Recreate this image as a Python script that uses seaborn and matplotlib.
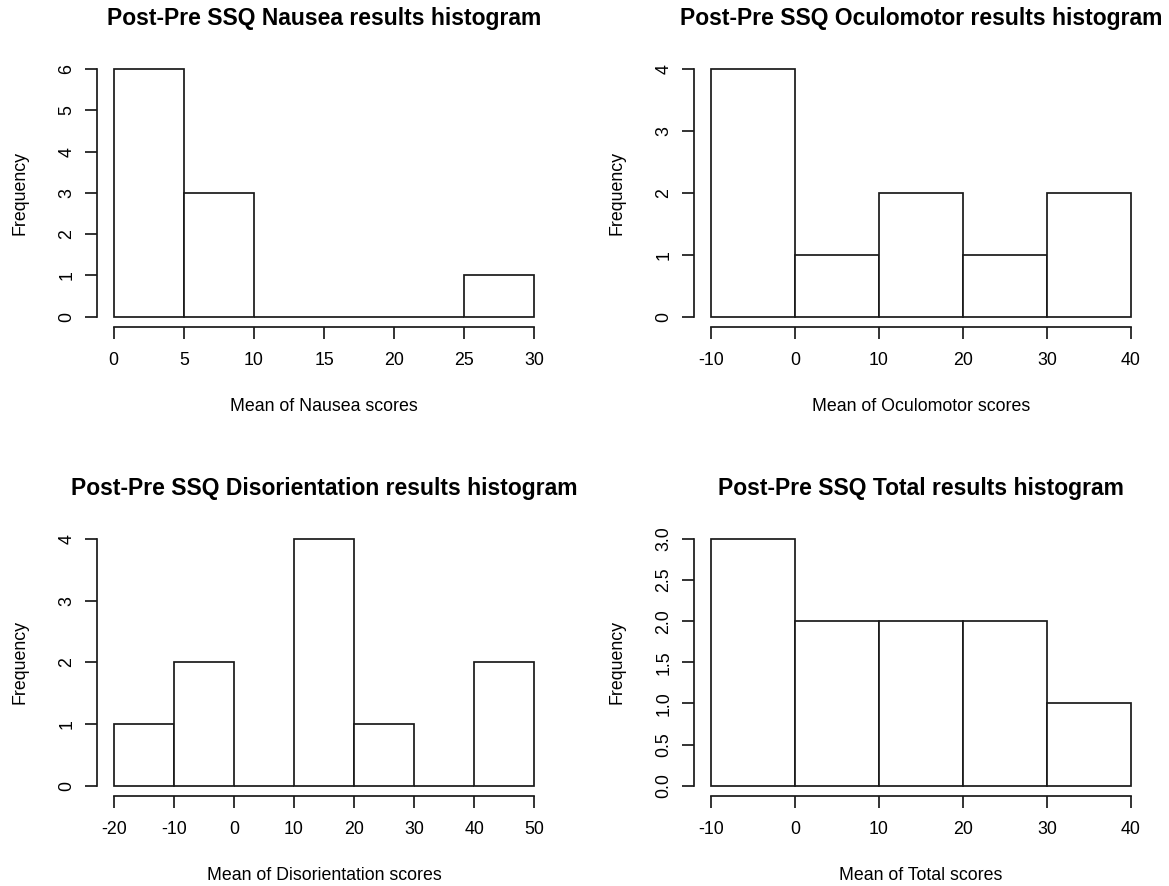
import matplotlib
matplotlib.use("Agg")
import matplotlib.pyplot as plt
import seaborn as sns
import numpy as np

sns.set_style("white")
plt.rcParams['font.family'] = ['Liberation Sans', 'DejaVu Sans']
plt.rcParams['text.color'] = 'black'
plt.rcParams['axes.labelcolor'] = 'black'
plt.rcParams['xtick.color'] = 'black'
plt.rcParams['ytick.color'] = 'black'

# ---- data (bin edges and counts) ----
nausea_edges = [0, 5, 10, 15, 20, 25, 30]
nausea_counts = [6, 3, 0, 0, 0, 1]
nausea_yticks = [0, 1, 2, 3, 4, 5, 6]

oculo_edges = [-10, 0, 10, 20, 30, 40]
oculo_counts = [4, 1, 2, 1, 2]
oculo_yticks = [0, 1, 2, 3, 4]

disor_edges = [-20, -10, 0, 10, 20, 30, 40, 50]
disor_counts = [1, 2, 0, 4, 1, 0, 2]
disor_yticks = [0, 1, 2, 3, 4]

total_edges = [-10, 0, 10, 20, 30, 40]
total_counts = [3, 2, 2, 2, 1]
total_yticks = [0.0, 0.5, 1.0, 1.5, 2.0, 2.5, 3.0]

titles = ["Post-Pre SSQ Nausea results histogram",
          "Post-Pre SSQ Oculomotor results histogram",
          "Post-Pre SSQ Disorientation results histogram",
          "Post-Pre SSQ Total results histogram"]
xlabels = ["Mean of Nausea scores", "Mean of Oculomotor scores",
           "Mean of Disorientation scores", "Mean of Total scores"]
ylabel = "Frequency"

W, H = 1169, 886
fig = plt.figure(figsize=(W / 100, H / 100), dpi=100)

# axes rectangles in pixels: left, top, right, bottom
rects = [(96.9, 59.1, 551.1, 326.6),
         (694.2, 59.1, 1147.8, 326.6),
         (96.9, 529.1, 551.1, 795.6),
         (694.2, 529.1, 1147.8, 795.6)]

panels = [(nausea_edges, nausea_counts, nausea_yticks, False),
          (oculo_edges, oculo_counts, oculo_yticks, False),
          (disor_edges, disor_counts, disor_yticks, False),
          (total_edges, total_counts, total_yticks, True)]

LW = 1.25
FS = 12.8
INK = "#1a1a1a"

for i, ((edges, counts, yticks, dec), (l, t, r, b)) in enumerate(zip(panels, rects)):
    ax = fig.add_axes([l / W, 1 - b / H, (r - l) / W, (b - t) / H])
    edges_a = np.asarray(edges, dtype=float)
    centers = (edges_a[:-1] + edges_a[1:]) / 2
    sns.histplot(x=centers, weights=counts, bins=edges, stat="count",
                 color="white", edgecolor=INK, linewidth=LW, alpha=1,
                 ax=ax)
    xr = edges[-1] - edges[0]
    ymax = yticks[-1]
    ax.set_xlim(edges[0] - 0.04 * xr, edges[-1] + 0.04 * xr)
    ax.set_ylim(-0.04 * ymax, ymax * 1.04)
    ax.set_xticks(edges)
    ax.set_yticks(yticks)
    ax.set_xticklabels([f"{e:g}" for e in edges])
    if dec:
        ax.set_yticklabels([f"{v:.1f}" for v in yticks])
    else:
        ax.set_yticklabels([f"{v:g}" for v in yticks])
    for s in ["top", "right"]:
        ax.spines[s].set_visible(False)
    for s in ["left", "bottom"]:
        ax.spines[s].set_linewidth(LW)
        ax.spines[s].set_color(INK)
    ax.spines["bottom"].set_bounds(edges[0], edges[-1])
    ax.spines["left"].set_bounds(yticks[0], yticks[-1])
    ax.tick_params(axis="x", direction="out", length=8.6, width=LW,
                   color=INK, labelcolor="black", pad=9.5, labelsize=FS,
                   bottom=True)
    ax.tick_params(axis="y", direction="out", length=8.6, width=LW,
                   color=INK, labelcolor="black", pad=7, labelsize=FS,
                   left=True)
    plt.setp(ax.get_yticklabels(), rotation=90, va="center")
    ax.grid(False)
    ax.set_title(titles[i], fontsize=16.5, fontweight="bold", pad=24.5,
                 color="black")
    ax.set_xlabel(xlabels[i], fontsize=FS, color="black")
    ax.set_ylabel(ylabel, fontsize=FS, color="black")
    ax.xaxis.set_label_coords(0.5, -(398 - 326.6) / 267.5)
    ax.yaxis.set_label_coords(-(96.9 - 28.5) / (r - l), 0.5)

fig.savefig("out.png", dpi=100, facecolor="white")
